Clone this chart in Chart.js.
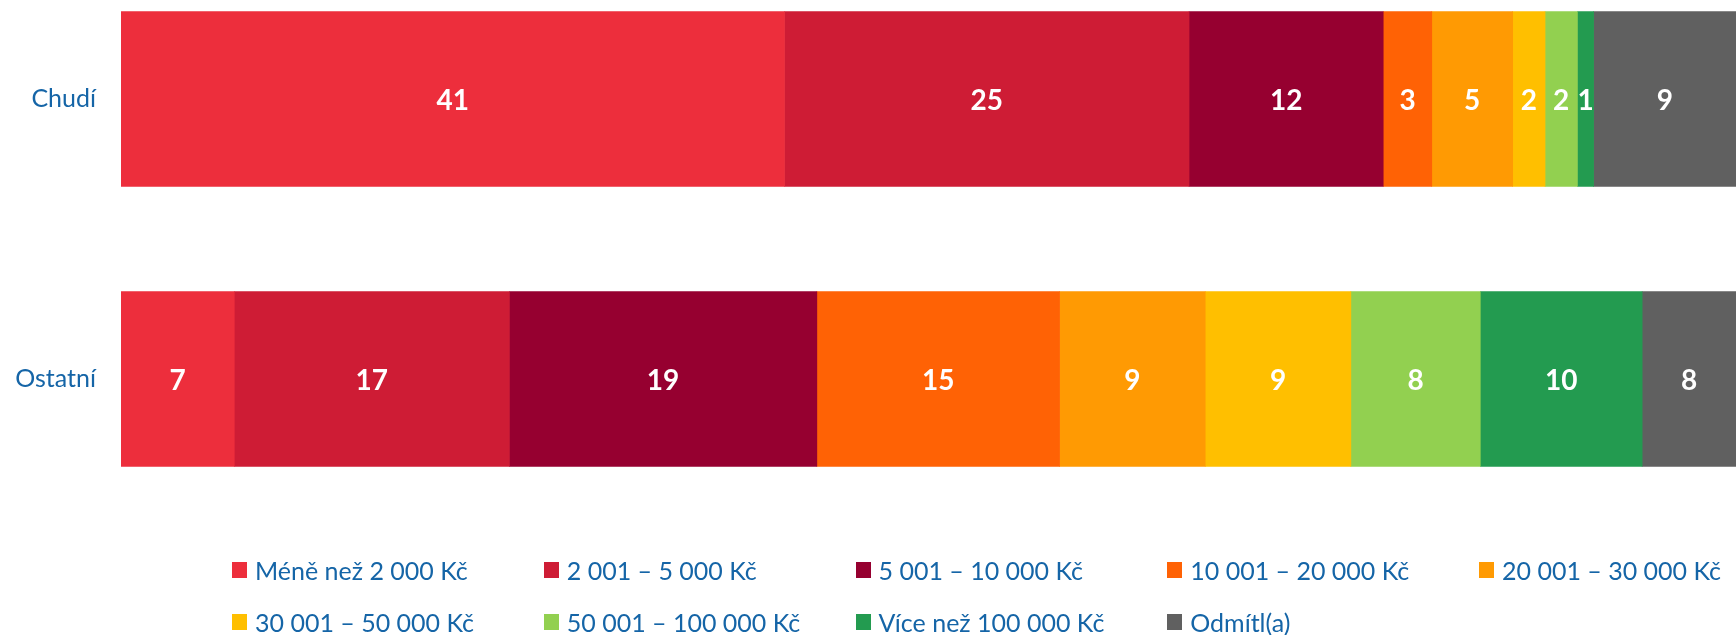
<!DOCTYPE html>
<html>
<head>
<meta charset="utf-8">
<script src="https://cdn.jsdelivr.net/npm/chart.js@4/dist/chart.umd.min.js"></script>
<style>
html,body{margin:0;padding:0;background:#fff}
#wrap{position:relative;width:1736px;height:635px}
#legend{position:absolute;left:0;top:0;width:1736px;height:635px;pointer-events:none;font-family:Lato,"Noto Sans",sans-serif;font-size:25px;color:#1565a7}
.item{position:absolute;display:flex;align-items:center;white-space:nowrap;height:30px}
.box{width:15px;height:16px;margin-right:8px}
</style>
</head>
<body>
<div id="wrap">
<canvas id="chart" width="1736" height="635"></canvas>
<div id="legend"></div>
</div>
<script>

/* =====================================================
DATA
===================================================== */

const groups=["Chudí","Ostatní"]

const bands=[
"Méně než 2 000 Kč",
"2 001 – 5 000 Kč",
"5 001 – 10 000 Kč",
"10 001 – 20 000 Kč",
"20 001 – 30 000 Kč",
"30 001 – 50 000 Kč",
"50 001 – 100 000 Kč",
"Více než 100 000 Kč",
"Odmítl(a)"
]

// one entry per band
const chudi=[41,25,12,3,5,2,2,1,9]
const ostatni=[7,17,19,15,9,9,8,10,8]

const colors=["#ed2e3c","#ce1c35","#960030","#ff6205","#ff9a03","#ffbf00","#92d050","#239b50","#606060"]

const textBlue="#1565a7"


/* =====================================================
VALUE LABELS (centered on the visible part of a bar)
===================================================== */

const valueLabels={
id:"valueLabels",
afterDatasetsDraw(chart){

const ctx=chart.ctx
const area=chart.chartArea

ctx.save()
ctx.font="bold 28px Lato, 'Noto Sans', sans-serif"
ctx.fillStyle="#fff"
ctx.textAlign="center"
ctx.textBaseline="middle"

chart.data.datasets.forEach((ds,i)=>{
const meta=chart.getDatasetMeta(i)
meta.data.forEach((bar,j)=>{
const p=bar.getProps(["x","y","base"],true)
const left=Math.max(Math.min(p.x,p.base),area.left)
const right=Math.min(Math.max(p.x,p.base),area.right)
if(right<=left) return
ctx.fillText(String(ds.data[j]),(left+right)/2,p.y+2)
})
})

ctx.restore()

}
}


/* =====================================================
CHART
===================================================== */

const datasets=bands.map((b,i)=>({
label:b,
data:[chudi[i],ostatni[i]],
backgroundColor:colors[i],
borderWidth:0,
barThickness:175,
clip:{left:0,right:0,top:false,bottom:false}
}))

new Chart(document.getElementById("chart"),{
type:"bar",
data:{labels:groups,datasets:datasets},
plugins:[valueLabels],
options:{
indexAxis:"y",
responsive:false,
animation:false,
layout:{padding:{top:99,bottom:256,left:0,right:0}},
plugins:{
legend:{display:false},
tooltip:{enabled:false}
},
scales:{
x:{
stacked:true,
display:false,
min:0,
max:99.8
},
y:{
stacked:true,
offset:false,
grid:{display:false,drawTicks:false},
border:{display:false},
ticks:{
padding:25,
color:textBlue,
font:{family:"Lato, 'Noto Sans', sans-serif",size:25}
},
afterFit(scale){scale.width=121}
}
}
}
})


/* =====================================================
LEGEND (5 columns, 2 rows)
===================================================== */

const legend=document.getElementById("legend")

bands.forEach((b,i)=>{
const col=i%5
const row=Math.floor(i/5)
const el=document.createElement("div")
el.className="item"
el.style.left=(232+col*311.75)+"px"
el.style.top=(555+row*52)+"px"
el.innerHTML=`<span class="box" style="background:${colors[i]}"></span>${b}`
legend.appendChild(el)
})

</script>
</body>
</html>
